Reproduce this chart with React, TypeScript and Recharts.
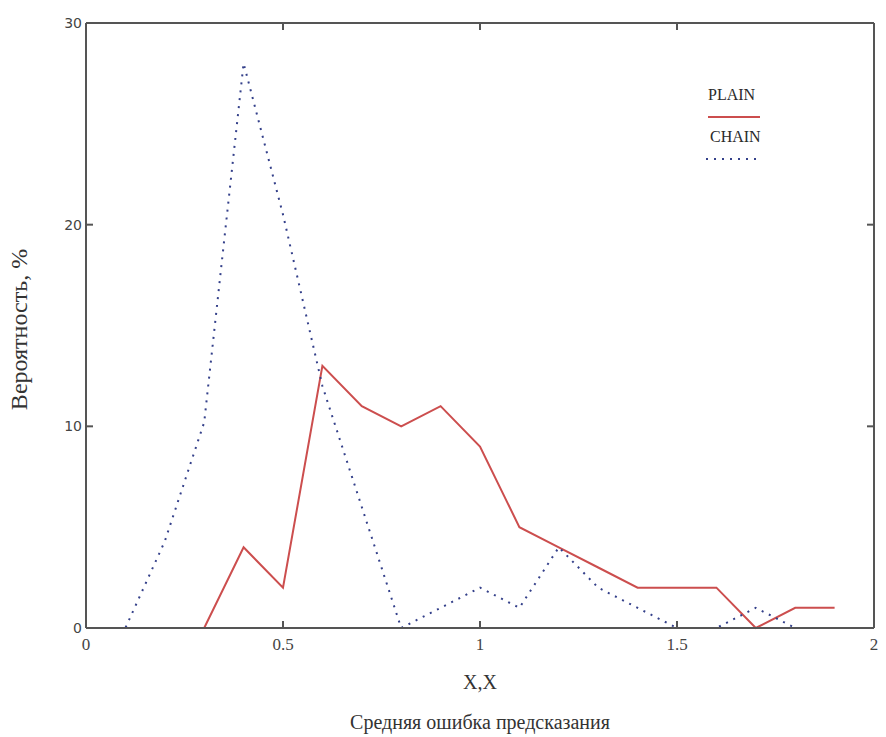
import { LineChart, Line, XAxis, YAxis } from 'recharts';

// error buckets (x) and probability, % for both models
const xValues = [0, 0.1, 0.2, 0.3, 0.4, 0.5, 0.6, 0.7, 0.8, 0.9, 1.0, 1.1, 1.2, 1.3, 1.4, 1.5, 1.6, 1.7, 1.8, 1.9];
const plainValues = [0, 0, 0, 0, 4, 2, 13, 11, 10, 11, 9, 5, 4, 3, 2, 2, 2, 0, 1, 1];
const chainValues = [0, 0, 4.3, 10.2, 28, 20.5, 12, 6, 0, 1, 2, 1, 4, 2, 1, 0, 0, 1, 0, 0];

const xTicks = [0, 0.5, 1, 1.5, 2];
const yTicks = [0, 10, 20, 30];

const seriesNames = ['PLAIN', 'CHAIN'];

const data = xValues.map((x, i) => ({ x, plain: plainValues[i], chain: chainValues[i] }));

const AXIS = '#555';
const RED = '#cc4e4e';
const BLUE = '#34408a';
const SERIF = '"Liberation Serif", "Times New Roman", serif';
const SANS = '"DejaVu Sans", "Liberation Sans", sans-serif';

const frameLine = { stroke: AXIS, strokeWidth: 2 };
const noTick = () => <g />;

const XTitle = ({ viewBox }: any) => {
  const cx = viewBox.x + viewBox.width / 2;
  return (
    <g fontFamily={SERIF} fill="#333">
      <text x={cx} y={viewBox.y + 56} textAnchor="middle" dominantBaseline="middle" fontSize={20}>
        X,X
      </text>
      <text x={cx} y={viewBox.y + 96} textAnchor="middle" dominantBaseline="middle" fontSize={20}>
        Средняя ошибка предсказания
      </text>
    </g>
  );
};

const YTitle = ({ viewBox }: any) => {
  const cy = viewBox.y + viewBox.height / 2 + 4;
  return (
    <text
      x={21}
      y={cy}
      transform={`rotate(-90, 21, ${cy})`}
      textAnchor="middle"
      dominantBaseline="middle"
      fontFamily={SERIF}
      fontSize={24}
      fill="#333"
    >
      Вероятность, %
    </text>
  );
};

const LegendBox = () => (
  <div
    style={{
      position: 'absolute',
      left: 704,
      top: 84,
      width: 70,
      fontFamily: SERIF,
      fontSize: 16,
      color: '#2a2a2a',
      lineHeight: '21px',
    }}
  >
    <div style={{ marginLeft: 4, height: 21 }}>{seriesNames[0]}</div>
    <svg width={60} height={21} style={{ display: 'block' }}>
      <line x1={4} y1={12} x2={56} y2={12} stroke={RED} strokeWidth={2} />
    </svg>
    <div style={{ marginLeft: 6, height: 21 }}>{seriesNames[1]}</div>
    <svg width={60} height={21} style={{ display: 'block' }}>
      <line x1={2} y1={12} x2={58} y2={12} stroke={BLUE} strokeWidth={2} strokeDasharray="2 6" />
    </svg>
  </div>
);

export default function App() {
  return (
    <div style={{ position: 'absolute', left: 0, top: 0, width: 886, height: 737, background: '#fff' }}>
      <LineChart width={886} height={737} data={data} margin={{ top: 22, right: 11, left: 0, bottom: 0 }}>
        <XAxis
          dataKey="x"
          type="number"
          domain={[0, 2]}
          ticks={xTicks}
          height={109}
          axisLine={frameLine}
          tickLine={frameLine}
          tickSize={-7}
          tickMargin={17}
          tick={{ fontFamily: SERIF, fontSize: 17, fill: '#444' }}
          label={{ content: XTitle }}
        />
        <XAxis
          xAxisId="top"
          dataKey="x"
          orientation="top"
          type="number"
          domain={[0, 2]}
          ticks={xTicks}
          height={1}
          axisLine={frameLine}
          tickLine={frameLine}
          tickSize={-7}
          tick={noTick}
        />
        <YAxis
          type="number"
          domain={[0, 30]}
          ticks={yTicks}
          width={86}
          axisLine={frameLine}
          tickLine={frameLine}
          tickSize={-7}
          tickMargin={11}
          tick={{ fontFamily: SANS, fontSize: 14, fill: '#444' }}
          label={{ content: YTitle }}
        />
        <YAxis
          yAxisId="right"
          orientation="right"
          type="number"
          domain={[0, 30]}
          ticks={yTicks}
          width={1}
          axisLine={frameLine}
          tickLine={frameLine}
          tickSize={-7}
          tick={noTick}
        />
        <Line
          dataKey="plain"
          name={seriesNames[0]}
          stroke={RED}
          strokeWidth={2}
          dot={false}
          isAnimationActive={false}
        />
        <Line
          dataKey="chain"
          name={seriesNames[1]}
          stroke={BLUE}
          strokeWidth={2}
          strokeDasharray="2 6"
          dot={false}
          isAnimationActive={false}
        />
        {/* invisible series so the top and right frame axes get drawn */}
        <Line
          dataKey="plain"
          xAxisId="top"
          yAxisId="right"
          stroke="none"
          dot={false}
          activeDot={false}
          legendType="none"
          isAnimationActive={false}
        />
      </LineChart>
      <LegendBox />
    </div>
  );
}
